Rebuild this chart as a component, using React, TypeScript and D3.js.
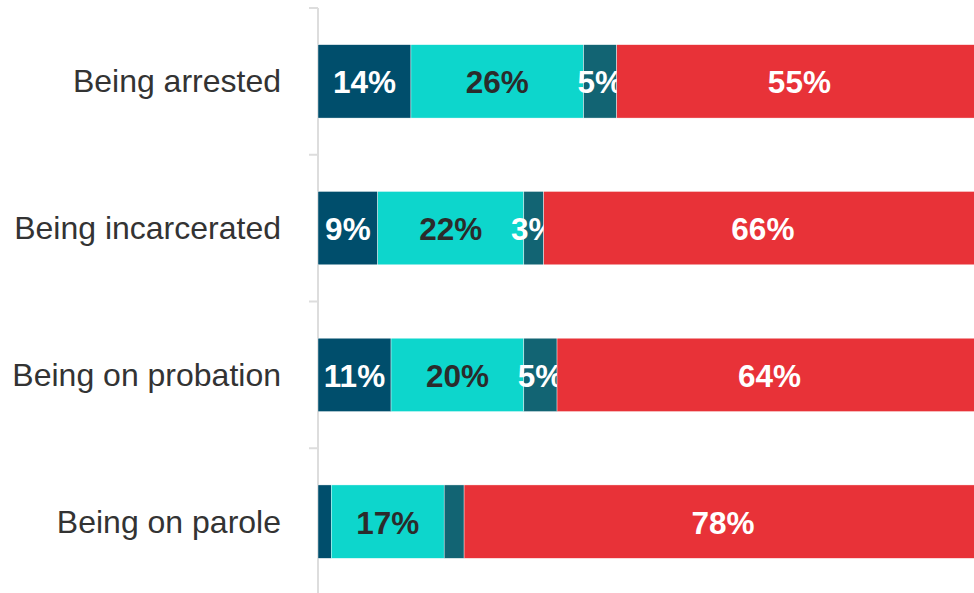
import React from "react";
import * as d3 from "d3";

const categories = [
  "Being arrested",
  "Being incarcerated",
  "Being on probation",
  "Being on parole",
];
const seriesKeys = ["s1", "s2", "s3", "s4"];
const s1 = [14, 9, 11, 2];
const s2 = [26, 22, 20, 17];
const s3 = [5, 3, 5, 3];
const s4 = [55, 66, 64, 78];
// segments whose value label the original leaves out
const hiddenLabels = ["Being on parole|s1", "Being on parole|s3"];

const colors = ["#004e6c", "#0dd6cc", "#126473", "#e83238"];
const labelColors = ["#ffffff", "#2b2b2b", "#ffffff", "#ffffff"];

const width = 974;
const height = 593;
const axisX = 318;

const App: React.FC = () => {
  const rows = categories.map((c, i) => ({
    category: c,
    s1: s1[i],
    s2: s2[i],
    s3: s3[i],
    s4: s4[i],
  }));
  const stacked = d3.stack<any>().keys(seriesKeys)(rows);

  const x = d3.scaleLinear().domain([0, 100]).range([axisX, axisX + 664]);
  const y = d3
    .scaleBand()
    .domain(categories)
    .range([8, 595])
    .paddingInner(0.5)
    .paddingOuter(0.25);

  const step = y.step();
  const tickYs = d3.range(categories.length + 1).map(i => 8 + i * step);

  return (
    <svg
      width={width}
      height={height}
      style={{ position: "absolute", left: 0, top: 0, overflow: "hidden" }}
      fontFamily="'Liberation Sans', Arial, sans-serif"
    >
      <line x1={axisX} x2={axisX} y1={8} y2={595} stroke="#dddddd" strokeWidth={2} />
      {tickYs.map((ty, i) => (
        <line key={i} x1={axisX - 9} x2={axisX} y1={ty} y2={ty} stroke="#dddddd" strokeWidth={2} />
      ))}
      {categories.map(c => (
        <text
          key={c}
          x={281}
          y={y(c)! + y.bandwidth() / 2}
          textAnchor="end"
          dominantBaseline="central"
          fontSize={32}
          fill="#333333"
        >
          {c}
        </text>
      ))}
      {stacked.map((layer, si) => (
        <g key={layer.key}>
          {layer.map(d => {
            const cat = d.data.category;
            const x0 = x(d[0]);
            const x1 = x(d[1]);
            const val = d[1] - d[0];
            const show = !hiddenLabels.includes(`${cat}|${layer.key}`);
            return (
              <g key={cat}>
                <rect
                  x={x0}
                  y={y(cat)!}
                  width={x1 - x0}
                  height={y.bandwidth()}
                  fill={colors[si]}
                  stroke="#ffffff"
                  strokeWidth={0.4}
                />
                {show && (
                  <text
                    x={(x0 + x1) / 2}
                    y={y(cat)! + y.bandwidth() / 2 + 1}
                    textAnchor="middle"
                    dominantBaseline="central"
                    fontSize={31.5}
                    fontWeight="bold"
                    fill={labelColors[si]}
                  >
                    {val}%
                  </text>
                )}
              </g>
            );
          })}
        </g>
      ))}
    </svg>
  );
};

export default App;
